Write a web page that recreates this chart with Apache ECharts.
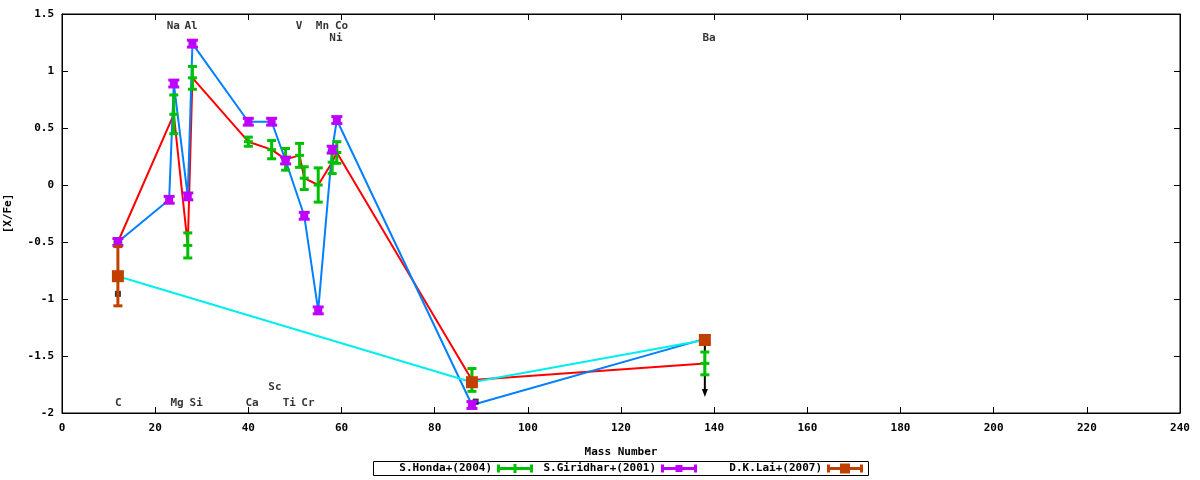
<!DOCTYPE html>
<html>
<head>
<meta charset="utf-8">
<title>[X/Fe] vs Mass Number</title>
<script src="https://cdn.jsdelivr.net/npm/echarts/dist/echarts.min.js"></script>
<style>
  html, body { margin: 0; padding: 0; background: #fff; }
  #main { width: 1200px; height: 480px; }
</style>
</head>
<body>
<div id="main"></div>
<script>
// S.Honda+(2004)
var hondaMass = [12, 24, 27, 28, 40, 45, 48, 51, 52, 55, 58, 59, 88, 138];
var hondaVal  = [-0.5, 0.62, -0.53, 0.94, 0.38, 0.31, 0.225, 0.26, 0.06, 0.0, 0.2, 0.285, -1.71, -1.565];
var hondaErr  = [0.03, 0.17, 0.11, 0.1, 0.04, 0.08, 0.095, 0.105, 0.1, 0.15, 0.1, 0.095, 0.1, 0.1];

// S.Giridhar+(2001)
var giriMass = [12, 23, 24, 27, 28, 40, 45, 48, 52, 55, 58, 59, 88, 138];
var giriVal  = [-0.5, -0.13, 0.89, -0.1, 1.24, 0.555, 0.555, 0.215, -0.27, -1.1, 0.31, 0.57, -1.93, -1.35];
var giriErr  = [0.03, 0.03, 0.03, 0.03, 0.03, 0.03, 0.03, 0.03, 0.03, 0.03, 0.03, 0.03, 0.03, 0.03];

// D.K.Lai+(2007)
var laiMass = [12, 88, 138];
var laiVal  = [-0.8, -1.73, -1.36];
var laiErr  = [0.26, 0, 0];

// upper limit arrow (Ba) and small black marks
var limitMass = [138];
var limitFrom = [-1.37];
var limitTo   = [-1.86];
var blackMass = [12, 88.8];
var blackVal  = [-0.955, -1.9];

// element names written on the plot
var elemNames = ['Na', 'Al', 'V', 'Mn', 'Co', 'Ni', 'Ba', 'C', 'Mg', 'Si', 'Ca', 'Sc', 'Ti', 'Cr'];
var elemX = [23.9, 27.7, 50.9, 55.9, 60.0, 58.8, 138.9, 12.1, 24.7, 28.8, 40.8, 45.7, 48.8, 52.8];
var elemY = [1.395, 1.395, 1.395, 1.395, 1.395, 1.29, 1.29, -1.91, -1.91, -1.91, -1.91, -1.77, -1.91, -1.91];

var xTicks = [0, 20, 40, 60, 80, 100, 120, 140, 160, 180, 200, 220, 240];
var yTicks = [-2, -1.5, -1, -0.5, 0, 0.5, 1, 1.5];

var FONT = 'DejaVu Sans Mono';

function pairs(xs, ys, es) {
    var out = [];
    for (var i = 0; i < xs.length; i++) {
        out.push(es ? [xs[i], ys[i], es[i]] : [xs[i], ys[i]]);
    }
    return out;
}

// gnuplot style error bars: vertical bar, caps, and a centre mark
function errorBars(color, capW, mark, markSize) {
    return function (params, api) {
        var x = api.value(0), y = api.value(1), e = api.value(2);
        var c = api.coord([x, y]);
        var hi = api.coord([x, y + e]);
        var lo = api.coord([x, y - e]);
        var st = { stroke: color, lineWidth: 3 };
        var kids = [];
        if (e > 0) {
            kids.push({ type: 'line', shape: { x1: c[0], y1: hi[1], x2: c[0], y2: lo[1] }, style: st });
            kids.push({ type: 'line', shape: { x1: c[0] - capW / 2, y1: hi[1], x2: c[0] + capW / 2, y2: hi[1] }, style: st });
            kids.push({ type: 'line', shape: { x1: c[0] - capW / 2, y1: lo[1], x2: c[0] + capW / 2, y2: lo[1] }, style: st });
        }
        if (mark === 'bar') {
            kids.push({ type: 'line', shape: { x1: c[0] - markSize / 2, y1: c[1], x2: c[0] + markSize / 2, y2: c[1] }, style: st });
        } else {
            kids.push({ type: 'rect', shape: { x: c[0] - markSize / 2, y: c[1] - markSize / 2, width: markSize, height: markSize }, style: { fill: color } });
        }
        return { type: 'group', children: kids };
    };
}

function arrowDown(params, api) {
    var a = api.coord([api.value(0), api.value(1)]);
    var b = api.coord([api.value(0), api.value(2)]);
    return {
        type: 'group',
        children: [
            { type: 'line', shape: { x1: a[0], y1: a[1], x2: b[0], y2: b[1] - 6 }, style: { stroke: '#000', lineWidth: 2 } },
            { type: 'polygon', shape: { points: [[b[0] - 3, b[1] - 8], [b[0] + 3, b[1] - 8], [b[0], b[1]]] }, style: { fill: '#000' } }
        ]
    };
}

var chart = echarts.init(document.getElementById('main'));

var axisLine = { show: true, onZero: false, lineStyle: { color: '#000', width: 1 } };
var axisTick = { show: true, inside: true, length: 6, lineStyle: { color: '#000' } };
var tickFont = { color: '#000', fontFamily: FONT, fontWeight: 'bold', fontSize: 11 };

var option = {
    animation: false,
    backgroundColor: '#fff',
    grid: { left: 62, right: 20, top: 14, bottom: 67, containLabel: false, outerBoundsMode: 'none',
            show: true, borderColor: '#000', borderWidth: 1 },
    xAxis: [{
        type: 'value', min: xTicks[0], max: xTicks[xTicks.length - 1], interval: 20,
        axisLine: axisLine, axisTick: axisTick, splitLine: { show: false },
        axisLabel: Object.assign({ margin: 10 }, tickFont),
        name: 'Mass Number', nameLocation: 'middle', nameGap: 34,
        nameTextStyle: tickFont
    }, {
        type: 'value', position: 'top', min: xTicks[0], max: xTicks[xTicks.length - 1], interval: 20,
        axisLine: axisLine, axisTick: axisTick, splitLine: { show: false }, axisLabel: { show: false }
    }],
    yAxis: [{
        type: 'value', min: yTicks[0], max: yTicks[yTicks.length - 1], interval: 0.5,
        axisLine: axisLine, axisTick: axisTick, splitLine: { show: false },
        axisLabel: Object.assign({ margin: 8 }, tickFont),
        name: '[X/Fe]', nameLocation: 'middle', nameGap: 48, nameRotate: 90,
        nameTextStyle: tickFont
    }, {
        type: 'value', position: 'right', min: yTicks[0], max: yTicks[yTicks.length - 1], interval: 0.5,
        axisLine: axisLine, axisTick: axisTick, splitLine: { show: false }, axisLabel: { show: false }
    }],
    series: [
        // connecting lines
        { type: 'line', data: pairs(hondaMass, hondaVal), showSymbol: false, symbol: 'none',
          lineStyle: { color: '#ff0000', width: 2 }, z: 2 },
        { type: 'line', data: pairs(giriMass, giriVal), showSymbol: false, symbol: 'none',
          lineStyle: { color: '#0080ff', width: 2 }, z: 2 },
        { type: 'line', data: pairs(laiMass, laiVal), showSymbol: false, symbol: 'none',
          lineStyle: { color: '#00eeee', width: 2 }, z: 2 },
        // black marks and upper limit
        { type: 'scatter', data: pairs(blackMass, blackVal), symbol: 'rect', symbolSize: [6, 6],
          itemStyle: { color: '#000' }, z: 3 },
        { type: 'custom', data: pairs(limitMass, limitFrom, limitTo), renderItem: arrowDown, z: 3 },
        // error bars
        { type: 'custom', name: 'S.Honda+(2004)', data: pairs(hondaMass, hondaVal, hondaErr),
          renderItem: errorBars('#00c000', 9, 'bar', 9), z: 4 },
        { type: 'custom', name: 'S.Giridhar+(2001)', data: pairs(giriMass, giriVal, giriErr),
          renderItem: errorBars('#c000ff', 11, 'square', 8), z: 5 },
        { type: 'custom', name: 'D.K.Lai+(2007)', data: pairs(laiMass, laiVal, laiErr),
          renderItem: errorBars('#c04000', 9, 'square', 12), z: 6 },
        // element labels
        { type: 'scatter', data: pairs(elemX, elemY).map(function (p, i) { return { value: p, name: elemNames[i] }; }),
          symbolSize: 0, z: 7,
          label: { show: true, position: 'inside', formatter: '{b}', color: '#000',
                   fontFamily: FONT, fontWeight: 'bold', fontSize: 11 } }
    ],
    graphic: buildLegend()
};

// gnuplot-like key under the plot: text right-aligned, sample after it
function buildLegend() {
    var items = [
        { text: 'S.Honda+(2004)', color: '#00c000', mark: 'bar', size: 9, right: 492 },
        { text: 'S.Giridhar+(2001)', color: '#c000ff', mark: 'square', size: 7, right: 656 },
        { text: 'D.K.Lai+(2007)', color: '#c04000', mark: 'square', size: 10, right: 822 }
    ];
    var g = [{ type: 'rect', shape: { x: 373.5, y: 461.5, width: 495, height: 14 },
               style: { fill: '#fff', stroke: '#000', lineWidth: 1 } }];
    var cy = 468.5;
    items.forEach(function (it) {
        var x0 = it.right + 5, x1 = it.right + 41, xm = (x0 + x1) / 2;
        var st = { stroke: it.color, lineWidth: 3 };
        g.push({ type: 'text', x: it.right, y: cy,
                 style: { text: it.text, fill: '#000', font: 'bold 11px "' + FONT + '"', textAlign: 'right', textVerticalAlign: 'middle' } });
        g.push({ type: 'line', shape: { x1: x0, y1: cy, x2: x1, y2: cy }, style: st });
        g.push({ type: 'line', shape: { x1: x0 + 1.5, y1: cy - 4, x2: x0 + 1.5, y2: cy + 4 }, style: st });
        g.push({ type: 'line', shape: { x1: x1 - 1.5, y1: cy - 4, x2: x1 - 1.5, y2: cy + 4 }, style: st });
        if (it.mark === 'bar') {
            g.push({ type: 'line', shape: { x1: xm, y1: cy - it.size / 2, x2: xm, y2: cy + it.size / 2 }, style: st });
        } else {
            g.push({ type: 'rect', shape: { x: xm - it.size / 2, y: cy - it.size / 2, width: it.size, height: it.size },
                     style: { fill: it.color } });
        }
    });
    return g;
}

chart.setOption(option);
</script>
</body>
</html>
